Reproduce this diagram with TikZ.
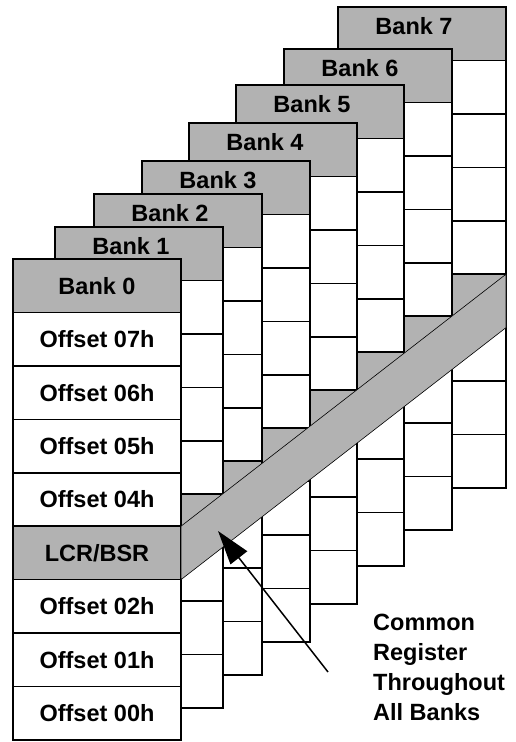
\documentclass[tikz,border=0pt]{standalone}
\usepackage{fontspec}
\setmainfont{Liberation Sans}
\usetikzlibrary{arrows.meta}
\definecolor{bankgrey}{gray}{0.7}
\def\rowh{53.44}
\def\bankw{168}

\begin{document}
\begin{tikzpicture}[x=1pt,y=-1pt,
	cell/.style={draw=black,line width=1.5pt,fill=white},
	greycell/.style={cell,fill=bankgrey},
	band/.style={draw=black,line width=0.6pt,fill=bankgrey},
	lbl/.style={font=\fontsize{23.5}{30}\selectfont\bfseries,inner sep=0pt}]
	%%%%% START %%%%%
	\useasboundingbox (0,0) rectangle (515,742);
	
	% banks 7 to 1, back to front
	\foreach \b/\lx/\ty in {7/338/7,6/284/49,5/236/85,4/189/123,3/142/161,2/94/194,1/55/227}{
		\foreach \r in {1,...,8}{
			\draw[cell] (\lx,\ty+\r*\rowh) rectangle ++(\bankw,\rowh);
		}
		\draw[greycell] (\lx,\ty+5*\rowh) rectangle ++(\bankw,\rowh);
		\draw[greycell] (\lx,\ty) rectangle ++(\bankw,\rowh);
		\node[lbl] (bank\b) at (\lx+76,\ty+19) {Bank \b};
	}
	
	% bank 0
	\draw[greycell] (13,259) rectangle ++(\bankw,\rowh);
	\node[lbl] (bank0) at (97,259+0.5*\rowh) {Bank 0};
	\foreach \r/\txt in {1/Offset 07h,2/Offset 06h,3/Offset 05h,4/Offset 04h,6/Offset 02h,7/Offset 01h,8/Offset 00h}{
		\draw[cell] (13,259+\r*\rowh) rectangle ++(\bankw,\rowh);
		\node[lbl] (row\r) at (97,259+\r*\rowh+0.5*\rowh) {\txt};
	}
	\draw[greycell] (13,259+5*\rowh) rectangle ++(\bankw,\rowh);
	\node[lbl] (lcr) at (97,259+5.5*\rowh) {LCR/BSR};
	
	% common register band
	\draw[band] (181,259+5*\rowh) -- (506,7+5*\rowh) -- (506,7+6*\rowh) -- (181,259+6*\rowh) -- cycle;
	
	% note and arrow
	\node[lbl,anchor=north west,align=left] (note) at (373,614) {Common\\Register\\Throughout\\All Banks};
	\coordinate (arrowfrom) at (328,672);
	\coordinate (arrowto) at (218,531);
	\draw[line width=1.5pt,-{Triangle[length=34pt,width=21pt]}] (arrowfrom) -- (arrowto);
	%%%%% END %%%%%
\end{tikzpicture}
\end{document}
